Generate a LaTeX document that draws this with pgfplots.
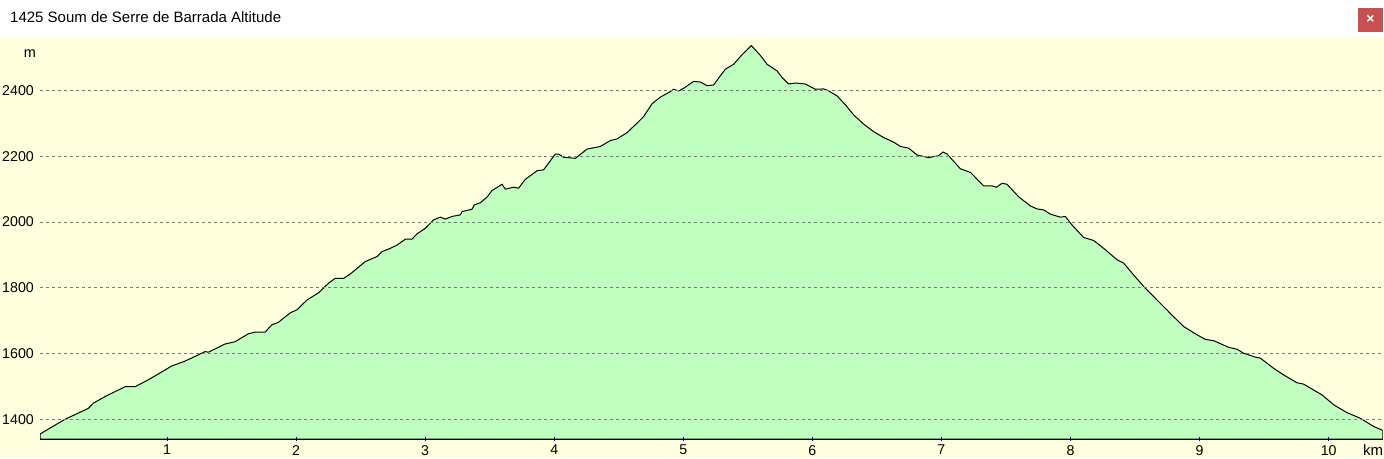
\documentclass[border=0pt]{standalone}
\usepackage{pgfplots}
\pgfplotsset{compat=1.18}
\usepackage{fontspec}
\setmainfont{Liberation Sans}
\definecolor{bgyellow}{RGB}{255,255,221}
\definecolor{areagreen}{RGB}{192,255,192}
\definecolor{gridc}{RGB}{120,120,128}
\definecolor{closered}{RGB}{199,80,80}
\begin{document}
\begin{tikzpicture}[x=1pt,y=1pt]
\fill[bgyellow] (0,0) rectangle (1384,421);
\fill[white] (0,421) rectangle (1384,458);
\useasboundingbox (0,0) rectangle (1384,458);
\begin{axis}[
  at={(40pt,19pt)}, anchor=south west,
  scale only axis, width=1342.6pt, height=402pt,
  xmin=0.016, xmax=10.418, ymin=1340, ymax=2563,
  axis on top,
  axis x line*=bottom, axis y line*=left,
  y axis line style={draw=none},
  x axis line style={black, line width=1pt, -},
  xtick={1,2,...,10}, ytick={1400,1600,...,2400},
  ymajorgrids, major grid style={gridc, dash pattern=on 3pt off 3pt, line width=0.9pt},
  ytick style={draw=none},
  xtick style={blue, line width=0.8pt},
  major tick length=4pt, tick align=center,
  tick label style={font=\fontsize{14.2}{16}\selectfont},
  /pgf/number format/assume math mode=true,
  /pgf/number format/set thousands separator={},
  yticklabel style={anchor=east, inner sep=0pt, xshift=-4pt},
  xticklabel style={anchor=north, inner sep=0pt, yshift=-4pt},
]
\addplot[fill=areagreen, draw=black, line width=1pt] table {
0.016 1355
0.106 1376
0.210 1400
0.390 1433
0.429 1449
0.520 1469
0.623 1489
0.675 1499
0.752 1499
0.855 1520
0.907 1532
1.036 1562
1.140 1577
1.243 1596
1.295 1606
1.320 1604
1.450 1629
1.527 1636
1.630 1660
1.682 1665
1.760 1665
1.811 1687
1.863 1695
1.891 1704
1.956 1724
2.007 1733
2.085 1763
2.175 1785
2.252 1814
2.304 1829
2.369 1829
2.420 1842
2.537 1880
2.627 1895
2.666 1910
2.730 1920
2.782 1930
2.847 1948
2.898 1948
2.937 1964
3.001 1981
3.066 2007
3.118 2015
3.156 2009
3.208 2017
3.273 2022
3.286 2032
3.363 2039
3.381 2052
3.428 2059
3.480 2076
3.518 2096
3.596 2115
3.621 2100
3.686 2106
3.724 2103
3.776 2130
3.867 2156
3.918 2159
4.009 2207
4.034 2207
4.073 2197
4.164 2194
4.254 2222
4.357 2230
4.435 2248
4.487 2253
4.564 2272
4.642 2301
4.693 2321
4.758 2360
4.822 2380
4.900 2397
4.925 2404
4.964 2399
5.003 2407
5.080 2428
5.132 2426
5.184 2415
5.235 2417
5.287 2445
5.326 2465
5.390 2480
5.455 2509
5.527 2537
5.597 2507
5.649 2480
5.726 2460
5.765 2440
5.816 2420
5.868 2423
5.946 2420
6.023 2404
6.087 2405
6.126 2399
6.191 2384
6.255 2357
6.320 2326
6.397 2298
6.475 2275
6.552 2257
6.630 2243
6.682 2230
6.746 2225
6.811 2204
6.901 2196
6.979 2202
7.012 2213
7.044 2207
7.147 2162
7.225 2151
7.327 2110
7.392 2110
7.426 2106
7.470 2118
7.508 2115
7.598 2077
7.689 2049
7.741 2040
7.792 2037
7.844 2024
7.921 2015
7.960 2017
8.012 1991
8.102 1953
8.179 1944
8.257 1920
8.361 1885
8.412 1875
8.489 1839
8.567 1804
8.670 1763
8.799 1712
8.877 1682
8.967 1660
9.045 1643
9.109 1639
9.225 1619
9.290 1613
9.341 1601
9.432 1589
9.471 1586
9.574 1555
9.651 1535
9.755 1511
9.806 1507
9.949 1474
10.039 1444
10.143 1420
10.246 1403
10.349 1378
10.414 1367
10.418 1365
} \closedcycle;
\end{axis}
\node[anchor=base west, inner sep=0pt, font=\fontsize{15}{17}\selectfont] at (10,435) {1425 Soum de Serre de Barrada Altitude};
\fill[closered] (1358,426) rectangle (1383,450);
\node[text=white, inner sep=0pt, font=\fontsize{14}{14}\selectfont\bfseries] at (1370.5,438.5) {×};
\node[anchor=base, inner sep=0pt, font=\fontsize{14.5}{16}\selectfont] at (30,400) {m};
\node[anchor=base, inner sep=0pt, font=\fontsize{15}{17}\selectfont] at (1373,3) {km};
\end{tikzpicture}
\end{document}
